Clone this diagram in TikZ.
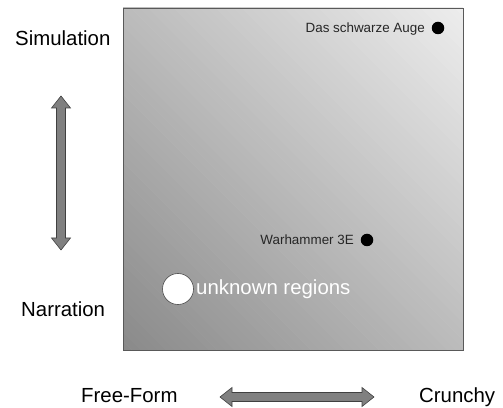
\documentclass[tikz,border=0pt]{standalone}
\usepackage{fontspec}
\setmainfont{Liberation Sans}
\begin{document}
\begin{tikzpicture}[x=1pt,y=1pt,
  biglabel/.style={font=\fontsize{20.4}{24}\selectfont, inner sep=0pt},
  smalllabel/.style={font=\fontsize{13.4}{16}\selectfont, inner sep=0pt, text=black!85},
  dot/.style={circle, fill=black, minimum size=12.5pt, inner sep=0pt},
  arrowshape/.style={fill=black!50, draw=black!75, line width=0.6pt, line join=miter}]
\useasboundingbox (0,0) rectangle (503,407);
% field: diagonal gradient, dark bottom-left to light top-right
\begin{scope}
  \clip (123,57) rectangle (463,399);
  \foreach \k in {0,...,79}{
    \pgfmathsetmacro{\ca}{180+\k*8.525}
    \pgfmathsetmacro{\cb}{\ca+9.2}
    \pgfmathsetmacro{\shadeval}{46-39*(\k+0.5)/80}
    \fill[black!\shadeval] (\ca+100,-100) -- (\ca-500,500) -- (\cb-500,500) -- (\cb+100,-100) -- cycle;
  }
\end{scope}
\draw[draw=black!65, line width=0.9pt] (123,57) rectangle (463,399);
% entries
\node[dot] (dsa) at (438,379) {};
\node[smalllabel, anchor=base east] (dsalabel) at (425,374.2) {Das schwarze Auge};
\node[dot] (wh) at (367,167) {};
\node[smalllabel, anchor=base east] (whlabel) at (354,162.2) {Warhammer 3E};
\node[circle, fill=white, draw=black!70, line width=0.6pt, minimum size=31pt, inner sep=0pt] (unk) at (178,118) {};
\node[biglabel, anchor=base west, text=white] (unklabel) at (196,112) {unknown regions};
% axis labels
\node[biglabel, anchor=base west] (sim) at (15,361) {Simulation};
\node[biglabel, anchor=base west] (nar) at (21,91) {Narration};
\node[biglabel, anchor=base west] (ff) at (81,4.6) {Free-Form};
\node[biglabel, anchor=base west] (cr) at (419,4.6) {Crunchy};
% vertical double arrow
\draw[arrowshape] (61,311) -- (70.5,299) -- (65.5,299) -- (65.5,169) -- (70.5,169) -- (61,157)
  -- (51.5,169) -- (56.5,169) -- (56.5,299) -- (51.5,299) -- cycle;
% horizontal double arrow
\draw[arrowshape] (220,10) -- (232,19.5) -- (232,14.5) -- (362,14.5) -- (362,19.5) -- (374,10)
  -- (362,0.5) -- (362,5.5) -- (232,5.5) -- (232,0.5) -- cycle;
\end{tikzpicture}
\end{document}
